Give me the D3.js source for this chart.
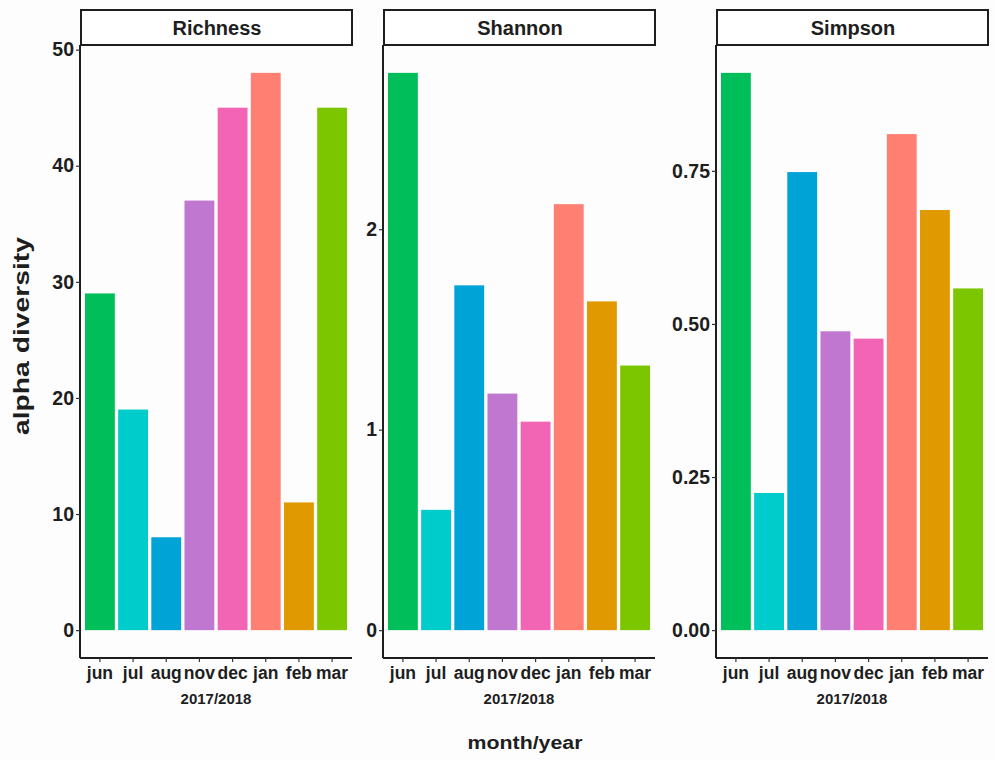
<!DOCTYPE html>
<html>
<head>
<meta charset="utf-8">
<script src="https://cdn.jsdelivr.net/npm/d3@7"></script>
<style>
  body { margin: 0; background: #fdfdfd; }
  svg { display: block; font-family: "Liberation Sans", Arial, sans-serif; }
</style>
</head>
<body>
<svg id="chart" width="995" height="760"></svg>
<script>
const months = ["jun", "jul", "aug", "nov", "dec", "jan", "feb", "mar"];
const monthColors = ["#00BF5B", "#00CDCB", "#00A3D5", "#C077CF", "#F265B4", "#FF7F72", "#E09A00", "#7CC600"];
const richness = [29, 19, 8, 37, 45, 48, 11, 45];
const shannon = [2.78, 0.60, 1.72, 1.18, 1.04, 2.125, 1.64, 1.32];
const simpson = [0.910, 0.224, 0.748, 0.488, 0.476, 0.810, 0.686, 0.558];
const panelNames = ["Richness", "Shannon", "Simpson"];
const richnessTicks = [0, 10, 20, 30, 40, 50];
const shannonTicks = [0, 1, 2];
const simpsonTicks = [0, 0.25, 0.5, 0.75];
const yearLabel = "2017/2018";
const xTitle = "month/year";
const yTitle = "alpha diversity";

const panels = [
  { name: panelNames[0], values: richness, ticks: richnessTicks, fmt: d3.format("d"), x0: 80, x1: 352 },
  { name: panelNames[1], values: shannon, ticks: shannonTicks, fmt: d3.format("d"), x0: 383, x1: 655 },
  { name: panelNames[2], values: simpson, ticks: simpsonTicks, fmt: d3.format(".2f"), x0: 716, x1: 988 }
];

const svg = d3.select("#chart");
svg.append("rect").attr("width", 995).attr("height", 760).attr("fill", "#fdfdfd");

const plotTop = 45, plotBottom = 658, stripTop = 10;
const ink = "#1e1e1e";

panels.forEach(p => {
  const g = svg.append("g");
  const max = d3.max(p.values);
  const y = d3.scaleLinear().domain([-0.05 * max, 1.05 * max]).range([plotBottom, plotTop]);
  const n = months.length;
  const unit = (p.x1 - p.x0) / (n - 1 + 1.2);
  const x = d3.scaleBand().domain(months)
    .range([p.x0 + 0.1 * unit, p.x1 - 0.1 * unit])
    .paddingInner(0.1).paddingOuter(0.05);

  g.selectAll("rect.bar").data(p.values).enter().append("rect")
    .attr("class", "bar")
    .attr("x", (d, i) => x(months[i]))
    .attr("width", x.bandwidth())
    .attr("y", d => y(d))
    .attr("height", d => y(0) - y(d))
    .attr("fill", (d, i) => monthColors[i]);

  const yAxis = d3.axisLeft(y).tickValues(p.ticks).tickFormat(p.fmt).tickSize(4).tickPadding(2);
  const ya = g.append("g").attr("transform", `translate(${p.x0},0)`).call(yAxis);
  ya.select(".domain").attr("stroke", ink).attr("stroke-width", 2)
    .attr("d", `M0,${plotTop}V${plotBottom}`);
  ya.selectAll(".tick line").attr("stroke", "#333").attr("stroke-width", 1.2);
  ya.selectAll(".tick text").attr("font-size", 19.5).attr("font-weight", "bold").attr("fill", ink)
    .attr("font-family", "Liberation Sans, Arial, sans-serif");

  const xAxis = d3.axisBottom(x).tickSize(4).tickPadding(5);
  const xa = g.append("g").attr("transform", `translate(0,${plotBottom})`).call(xAxis);
  xa.select(".domain").attr("stroke", ink).attr("stroke-width", 2)
    .attr("d", `M${p.x0},0H${p.x1}`);
  xa.selectAll(".tick line").attr("stroke", "#333").attr("stroke-width", 1.2);
  xa.selectAll(".tick text").attr("font-size", 17.5).attr("font-weight", "bold").attr("fill", ink)
    .attr("font-family", "Liberation Sans, Arial, sans-serif");

  g.append("text").attr("x", (p.x0 + p.x1) / 2).attr("y", 704)
    .attr("text-anchor", "middle").attr("font-size", 15).attr("font-weight", "bold")
    .attr("fill", ink).text(yearLabel);

  g.append("rect").attr("x", p.x0 + 1).attr("y", stripTop)
    .attr("width", p.x1 - p.x0 - 1).attr("height", plotTop - stripTop)
    .attr("fill", "#ffffff").attr("stroke", ink).attr("stroke-width", 2);
  g.append("text").attr("x", (p.x0 + p.x1) / 2 + 1).attr("y", 35)
    .attr("text-anchor", "middle").attr("font-size", 20).attr("font-weight", "bold")
    .attr("fill", ink).text(p.name);
});

svg.append("text").attr("x", 525).attr("y", 749).attr("text-anchor", "middle")
  .attr("font-size", 17.5).attr("font-weight", "bold").attr("fill", ink)
  .attr("textLength", 115).attr("lengthAdjust", "spacingAndGlyphs").text(xTitle);

svg.append("text").attr("transform", "translate(29,336) rotate(-90)")
  .attr("text-anchor", "middle").attr("font-size", 21.5).attr("font-weight", "bold")
  .attr("fill", ink).attr("textLength", 198).attr("lengthAdjust", "spacingAndGlyphs").text(yTitle);
</script>
</body>
</html>
